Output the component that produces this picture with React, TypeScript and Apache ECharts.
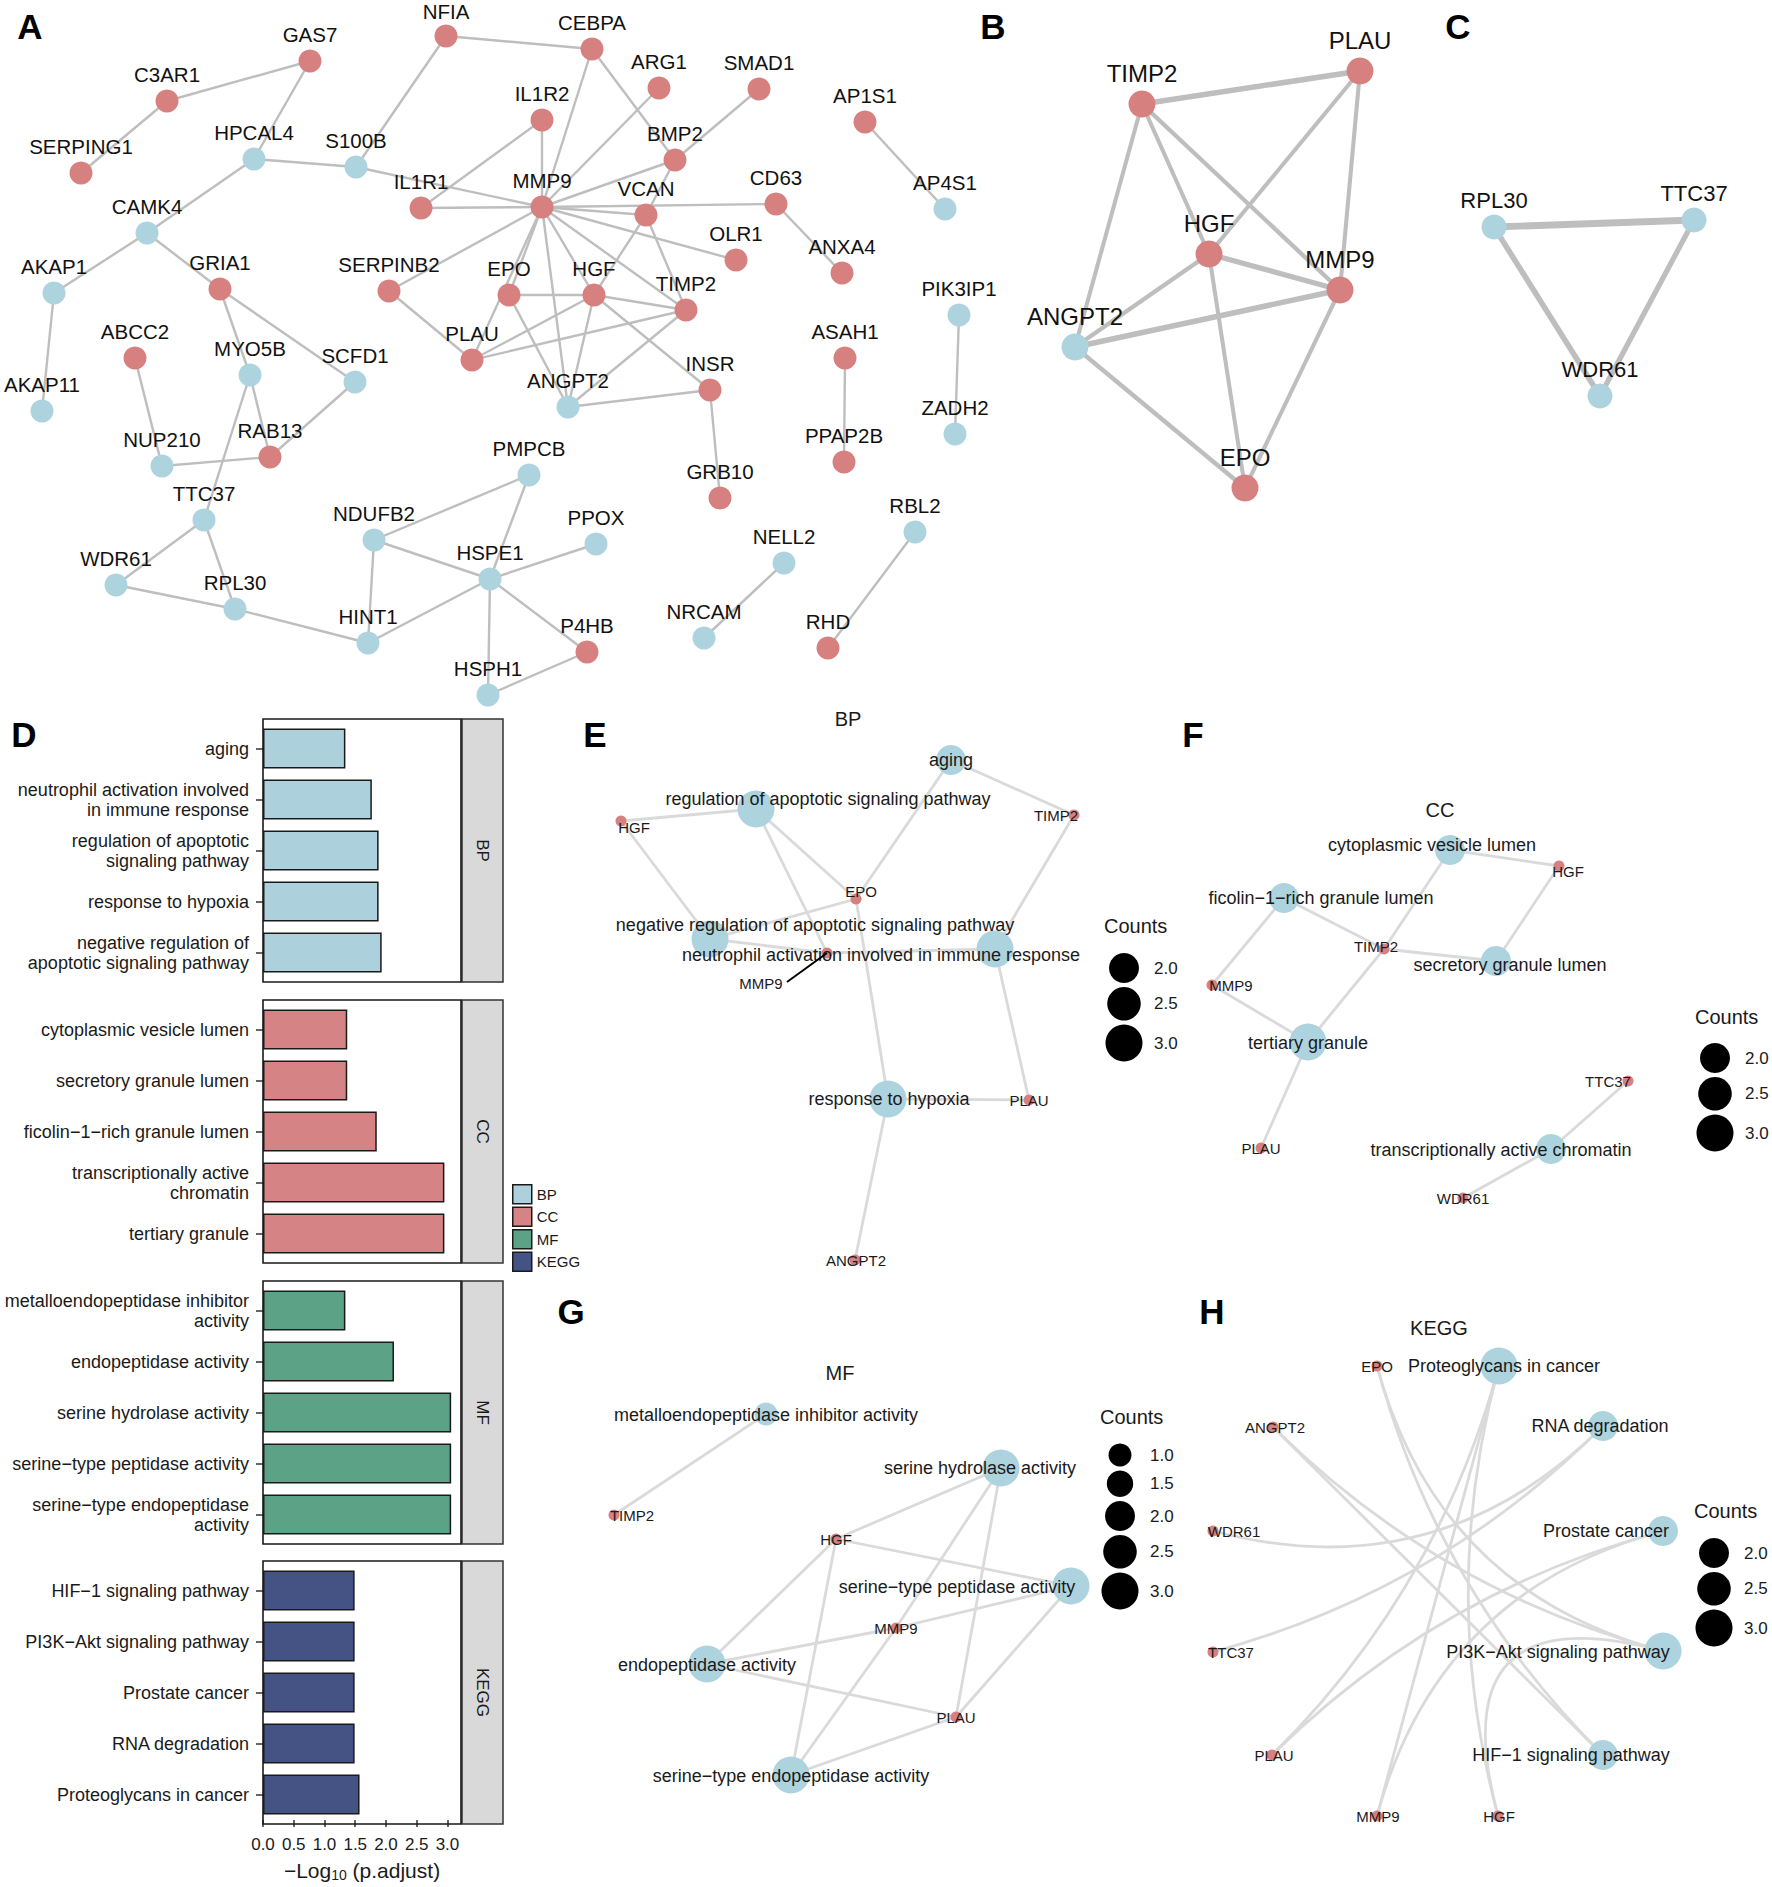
import React, { useEffect, useRef } from "react";
import * as echarts from "echarts";

const W = 1772;
const H = 1887;
const FONT = "'Liberation Sans', Arial, Helvetica, sans-serif";
const RED = "#D6807F";
const BLUE = "#ADD3DF";
const INK = "#1A1A1A";
const EDGE = "#BEBEBE";
const EDGE_LIGHT = "#DADADA";

// ---------------- Panel A : PPI network ----------------
const A_NODES: [string, number, number, "r" | "b"][] = [
  ["GAS7", 310, 61, "r"], ["NFIA", 446, 36, "r"], ["CEBPA", 592, 49, "r"],
  ["C3AR1", 167, 101, "r"], ["ARG1", 659, 88, "r"], ["SMAD1", 759, 89, "r"],
  ["AP1S1", 865, 122, "r"], ["IL1R2", 542, 120, "r"], ["HPCAL4", 254, 159, "b"],
  ["S100B", 356, 167, "b"], ["SERPING1", 81, 173, "r"], ["BMP2", 675, 160, "r"],
  ["IL1R1", 421, 208, "r"], ["MMP9", 542, 207, "r"], ["VCAN", 646, 215, "r"],
  ["CD63", 776, 204, "r"], ["AP4S1", 945, 209, "b"], ["CAMK4", 147, 233, "b"],
  ["OLR1", 736, 260, "r"], ["ANXA4", 842, 273, "r"], ["AKAP1", 54, 293, "b"],
  ["GRIA1", 220, 289, "r"], ["SERPINB2", 389, 291, "r"], ["EPO", 509, 295, "r"],
  ["HGF", 594, 295, "r"], ["TIMP2", 686, 310, "r"], ["PIK3IP1", 959, 315, "b"],
  ["ABCC2", 135, 358, "r"], ["ASAH1", 845, 358, "r"], ["MYO5B", 250, 375, "b"],
  ["SCFD1", 355, 382, "b"], ["PLAU", 472, 360, "r"], ["ANGPT2", 568, 407, "b"],
  ["INSR", 710, 390, "r"], ["AKAP11", 42, 411, "b"], ["ZADH2", 955, 434, "b"],
  ["NUP210", 162, 466, "b"], ["RAB13", 270, 457, "r"], ["PPAP2B", 844, 462, "r"],
  ["PMPCB", 529, 475, "b"], ["GRB10", 720, 498, "r"], ["TTC37", 204, 520, "b"],
  ["NDUFB2", 374, 540, "b"], ["PPOX", 596, 544, "b"], ["RBL2", 915, 532, "b"],
  ["NELL2", 784, 563, "b"], ["WDR61", 116, 585, "b"], ["HSPE1", 490, 579, "b"],
  ["RPL30", 235, 609, "b"], ["HINT1", 368, 643, "b"], ["NRCAM", 704, 638, "b"],
  ["P4HB", 587, 652, "r"], ["RHD", 828, 648, "r"], ["HSPH1", 488, 695, "b"],
];
const A_EDGES: [string, string][] = [
  ["C3AR1", "GAS7"], ["C3AR1", "SERPING1"], ["GAS7", "HPCAL4"], ["HPCAL4", "S100B"],
  ["HPCAL4", "CAMK4"], ["S100B", "NFIA"], ["S100B", "MMP9"], ["NFIA", "CEBPA"],
  ["IL1R1", "MMP9"], ["IL1R1", "IL1R2"], ["IL1R2", "MMP9"], ["CEBPA", "MMP9"],
  ["CEBPA", "BMP2"], ["ARG1", "MMP9"], ["SMAD1", "BMP2"], ["BMP2", "MMP9"],
  ["BMP2", "VCAN"], ["MMP9", "VCAN"], ["MMP9", "CD63"], ["MMP9", "OLR1"],
  ["MMP9", "TIMP2"], ["MMP9", "HGF"], ["MMP9", "ANGPT2"], ["MMP9", "EPO"],
  ["MMP9", "PLAU"], ["MMP9", "SERPINB2"], ["VCAN", "HGF"], ["VCAN", "TIMP2"],
  ["CD63", "ANXA4"], ["AP1S1", "AP4S1"], ["SERPINB2", "PLAU"], ["EPO", "HGF"],
  ["EPO", "ANGPT2"], ["HGF", "TIMP2"], ["HGF", "PLAU"], ["HGF", "ANGPT2"],
  ["HGF", "INSR"], ["TIMP2", "PLAU"], ["TIMP2", "ANGPT2"], ["ANGPT2", "INSR"],
  ["INSR", "GRB10"], ["PIK3IP1", "ZADH2"], ["ASAH1", "PPAP2B"], ["CAMK4", "AKAP1"],
  ["CAMK4", "GRIA1"], ["AKAP1", "AKAP11"], ["GRIA1", "MYO5B"], ["GRIA1", "SCFD1"],
  ["ABCC2", "NUP210"], ["MYO5B", "RAB13"], ["MYO5B", "TTC37"], ["SCFD1", "RAB13"],
  ["NUP210", "RAB13"], ["TTC37", "WDR61"], ["TTC37", "RPL30"], ["WDR61", "RPL30"],
  ["RPL30", "HINT1"], ["NDUFB2", "PMPCB"], ["NDUFB2", "HSPE1"], ["NDUFB2", "HINT1"],
  ["PMPCB", "HSPE1"], ["HSPE1", "PPOX"], ["HSPE1", "HINT1"], ["HSPE1", "P4HB"],
  ["HSPE1", "HSPH1"], ["P4HB", "HSPH1"], ["NELL2", "NRCAM"], ["RBL2", "RHD"],
];
const A_LABEL_DY: Record<string, number> = { NFIA: -25 };

// ---------------- Panel B / C : modules ----------------
const B_NODES: [string, number, number, "r" | "b"][] = [
  ["PLAU", 1360, 71, "r"], ["TIMP2", 1142, 104, "r"], ["HGF", 1209, 254, "r"],
  ["MMP9", 1340, 290, "r"], ["ANGPT2", 1075, 347, "b"], ["EPO", 1245, 488, "r"],
];
const B_EDGES: [string, string, number][] = [
  ["TIMP2", "PLAU", 0.95], ["TIMP2", "HGF", 0.7], ["TIMP2", "MMP9", 0.75], ["TIMP2", "ANGPT2", 0.7],
  ["PLAU", "HGF", 0.7], ["PLAU", "MMP9", 0.7], ["HGF", "MMP9", 0.9], ["HGF", "ANGPT2", 0.75],
  ["HGF", "EPO", 0.7], ["ANGPT2", "MMP9", 0.95], ["ANGPT2", "EPO", 0.75], ["MMP9", "EPO", 0.7],
];
const C_NODES: [string, number, number, "r" | "b"][] = [
  ["RPL30", 1494, 227, "b"], ["TTC37", 1694, 220, "b"], ["WDR61", 1600, 396, "b"],
];
const C_EDGES: [string, string, number][] = [
  ["RPL30", "TTC37", 0.99], ["RPL30", "WDR61", 0.8], ["TTC37", "WDR61", 0.75],
];

// ---------------- Panel D : enrichment bars ----------------
const D_GROUPS = ["BP", "CC", "MF", "KEGG"];
const D_COLORS = ["#ADD1DC", "#D58384", "#5BA287", "#455384"];
const BP_TERMS = [
  "aging",
  "neutrophil activation involved in immune response",
  "regulation of apoptotic signaling pathway",
  "response to hypoxia",
  "negative regulation of apoptotic signaling pathway",
];
const BP_VALUES = [1.34, 1.77, 1.88, 1.88, 1.93];
const CC_TERMS = [
  "cytoplasmic vesicle lumen",
  "secretory granule lumen",
  "ficolin\u22121\u2212rich granule lumen",
  "transcriptionally active chromatin",
  "tertiary granule",
];
const CC_VALUES = [1.37, 1.37, 1.85, 2.95, 2.95];
const MF_TERMS = [
  "metalloendopeptidase inhibitor activity",
  "endopeptidase activity",
  "serine hydrolase activity",
  "serine\u2212type peptidase activity",
  "serine\u2212type endopeptidase activity",
];
const MF_VALUES = [1.34, 2.13, 3.06, 3.06, 3.06];
const KEGG_TERMS = [
  "HIF\u22121 signaling pathway",
  "PI3K\u2212Akt signaling pathway",
  "Prostate cancer",
  "RNA degradation",
  "Proteoglycans in cancer",
];
const KEGG_VALUES = [1.49, 1.49, 1.49, 1.49, 1.57];
const X_TICKS = [0, 0.5, 1, 1.5, 2, 2.5, 3];
const X_MAX = 3.22;

// ---------------- Panels E-H : gene-concept networks ----------------
const E_TERMS: [string, number, number][] = [
  ["aging", 951, 760],
  ["regulation of apoptotic signaling pathway", 756, 809],
  ["negative regulation of apoptotic signaling pathway", 710, 939],
  ["neutrophil activation involved in immune response", 995, 949],
  ["response to hypoxia", 888, 1099],
];
const E_GENES: [string, number, number][] = [
  ["HGF", 621, 821], ["TIMP2", 1074, 815], ["EPO", 856, 899],
  ["MMP9", 827, 953], ["PLAU", 1029, 1100], ["ANGPT2", 855, 1260],
];
const E_LINKS: [string, string][] = [
  ["aging", "TIMP2"], ["aging", "EPO"],
  ["regulation of apoptotic signaling pathway", "HGF"],
  ["regulation of apoptotic signaling pathway", "EPO"],
  ["regulation of apoptotic signaling pathway", "MMP9"],
  ["negative regulation of apoptotic signaling pathway", "HGF"],
  ["negative regulation of apoptotic signaling pathway", "EPO"],
  ["negative regulation of apoptotic signaling pathway", "MMP9"],
  ["neutrophil activation involved in immune response", "TIMP2"],
  ["neutrophil activation involved in immune response", "MMP9"],
  ["neutrophil activation involved in immune response", "PLAU"],
  ["response to hypoxia", "EPO"], ["response to hypoxia", "PLAU"], ["response to hypoxia", "ANGPT2"],
];
const E_OFFSETS: Record<string, [number, number]> = {
  "regulation of apoptotic signaling pathway": [72, -10],
  "negative regulation of apoptotic signaling pathway": [105, -14],
  "neutrophil activation involved in immune response": [-114, 6],
  "response to hypoxia": [1, 0],
  HGF: [13, 6], TIMP2: [-18, 0], EPO: [5, -8], MMP9: [-66, 30], ANGPT2: [1, 0],
};

const F_TERMS: [string, number, number][] = [
  ["cytoplasmic vesicle lumen", 1450, 850],
  ["ficolin\u22121\u2212rich granule lumen", 1284, 898],
  ["secretory granule lumen", 1496, 961],
  ["tertiary granule", 1308, 1042],
  ["transcriptionally active chromatin", 1551, 1149],
];
const F_GENES: [string, number, number][] = [
  ["HGF", 1559, 866], ["TIMP2", 1384, 949], ["MMP9", 1212, 985],
  ["PLAU", 1261, 1148], ["TTC37", 1628, 1081], ["WDR61", 1463, 1198],
];
const F_LINKS: [string, string][] = [
  ["cytoplasmic vesicle lumen", "HGF"], ["cytoplasmic vesicle lumen", "TIMP2"],
  ["ficolin\u22121\u2212rich granule lumen", "TIMP2"], ["ficolin\u22121\u2212rich granule lumen", "MMP9"],
  ["secretory granule lumen", "TIMP2"], ["secretory granule lumen", "HGF"],
  ["tertiary granule", "MMP9"], ["tertiary granule", "TIMP2"], ["tertiary granule", "PLAU"],
  ["transcriptionally active chromatin", "TTC37"], ["transcriptionally active chromatin", "WDR61"],
];
const F_OFFSETS: Record<string, [number, number]> = {
  "cytoplasmic vesicle lumen": [-18, -5],
  "ficolin\u22121\u2212rich granule lumen": [37, 0],
  "secretory granule lumen": [14, 4],
  "tertiary granule": [0, 1],
  "transcriptionally active chromatin": [-50, 1],
  HGF: [9, 5], TIMP2: [-8, -3], MMP9: [19, 0], TTC37: [-20, 0],
};

const G_TERMS: [string, number, number][] = [
  ["metalloendopeptidase inhibitor activity", 766, 1414],
  ["serine hydrolase activity", 1001, 1468],
  ["serine\u2212type peptidase activity", 1071, 1586],
  ["endopeptidase activity", 707, 1664],
  ["serine\u2212type endopeptidase activity", 791, 1775],
];
const G_GENES: [string, number, number][] = [
  ["TIMP2", 614, 1515], ["HGF", 836, 1539], ["MMP9", 896, 1628], ["PLAU", 956, 1717],
];
const G_LINKS: [string, string][] = [
  ["metalloendopeptidase inhibitor activity", "TIMP2"],
  ["serine hydrolase activity", "HGF"], ["serine hydrolase activity", "MMP9"], ["serine hydrolase activity", "PLAU"],
  ["serine\u2212type peptidase activity", "HGF"], ["serine\u2212type peptidase activity", "MMP9"],
  ["serine\u2212type peptidase activity", "PLAU"],
  ["endopeptidase activity", "HGF"], ["endopeptidase activity", "MMP9"], ["endopeptidase activity", "PLAU"],
  ["serine\u2212type endopeptidase activity", "HGF"], ["serine\u2212type endopeptidase activity", "MMP9"],
  ["serine\u2212type endopeptidase activity", "PLAU"],
];
const G_OFFSETS: Record<string, [number, number]> = {
  "metalloendopeptidase inhibitor activity": [0, 1],
  "serine hydrolase activity": [-21, 0],
  "serine\u2212type peptidase activity": [-114, 1],
  "endopeptidase activity": [0, 1],
  "serine\u2212type endopeptidase activity": [0, 1],
  TIMP2: [18, 0],
};

const H_TERMS: [string, number, number][] = [
  ["Proteoglycans in cancer", 1499, 1366],
  ["RNA degradation", 1603, 1426],
  ["Prostate cancer", 1663, 1531],
  ["PI3K\u2212Akt signaling pathway", 1663, 1651],
  ["HIF\u22121 signaling pathway", 1603, 1755],
];
const H_GENES: [string, number, number][] = [
  ["EPO", 1377, 1366], ["ANGPT2", 1273, 1427], ["WDR61", 1213, 1531], ["TTC37", 1213, 1652],
  ["PLAU", 1272, 1755], ["MMP9", 1377, 1816], ["HGF", 1498, 1816],
];
const H_LINKS: [string, string][] = [
  ["Proteoglycans in cancer", "HGF"], ["Proteoglycans in cancer", "MMP9"], ["Proteoglycans in cancer", "PLAU"],
  ["RNA degradation", "WDR61"], ["RNA degradation", "TTC37"],
  ["Prostate cancer", "MMP9"], ["Prostate cancer", "PLAU"],
  ["PI3K\u2212Akt signaling pathway", "ANGPT2"], ["PI3K\u2212Akt signaling pathway", "EPO"],
  ["PI3K\u2212Akt signaling pathway", "HGF"],
  ["HIF\u22121 signaling pathway", "ANGPT2"], ["HIF\u22121 signaling pathway", "EPO"],
];
const H_OFFSETS: Record<string, [number, number]> = {
  "Proteoglycans in cancer": [5, 0],
  "RNA degradation": [-3, 0],
  "Prostate cancer": [-57, 0],
  "PI3K\u2212Akt signaling pathway": [-105, 1],
  "HIF\u22121 signaling pathway": [-32, 0],
  ANGPT2: [2, 0], WDR61: [21, 0], TTC37: [18, 0], PLAU: [2, 0], MMP9: [1, 0], HGF: [1, 0],
};

const COUNT_BREAKS_3 = [2.0, 2.5, 3.0];
const COUNT_BREAKS_5 = [1.0, 1.5, 2.0, 2.5, 3.0];

// ---------------- helpers ----------------
const countDiam = (c: number) => 23 + (c - 1) * 7;

function wrap(s: string, width = 30) {
  const words = s.split(" ");
  const lines: string[] = [];
  let cur = "";
  for (const w of words) {
    if (!cur) cur = w;
    else if ((cur + " " + w).length <= width) cur += " " + w;
    else { lines.push(cur); cur = w; }
  }
  if (cur) lines.push(cur);
  return lines.join("\n");
}

function buildOption() {
  const grid: any[] = [];
  const xAxis: any[] = [];
  const yAxis: any[] = [];
  const series: any[] = [];
  const graphic: any[] = [];

  const addNetGrid = (box: [number, number, number, number]) => {
    const gi = grid.length;
    grid.push({ left: box[0], top: box[1], width: box[2], height: box[3], show: false, containLabel: false, outerBoundsMode: "none" });
    xAxis.push({ type: "value", gridIndex: gi, min: box[0], max: box[0] + box[2], show: false });
    yAxis.push({ type: "value", gridIndex: gi, min: box[1], max: box[1] + box[3], inverse: true, show: false });
    return gi;
  };

  // PPI style networks (A, B, C)
  const ppi = (
    box: [number, number, number, number],
    nodes: [string, number, number, "r" | "b"][],
    edges: [string, string, number?][],
    diam: number, font: number, labelDy: number, edgeScale: number,
    dyOverride: Record<string, number> = {}
  ) => {
    const gi = addNetGrid(box);
    series.push({
      type: "graph", coordinateSystem: "cartesian2d", xAxisIndex: gi, yAxisIndex: gi,
      layout: "none", symbol: "circle", symbolSize: diam, roam: false, silent: true,
      data: nodes.map(([n, x, y, g]) => ({
        name: n, value: [x, y], itemStyle: { color: g === "r" ? RED : BLUE },
        label: { offset: [0, dyOverride[n] != null ? dyOverride[n] : labelDy] },
      })),
      links: edges.map(([s, t, w]) => ({ source: s, target: t, lineStyle: { width: w != null ? w * edgeScale : edgeScale } })),
      lineStyle: { color: EDGE, opacity: 1, curveness: 0 },
      label: { show: true, position: "inside", fontSize: font, fontFamily: FONT, color: "#111" },
      emphasis: { disabled: true },
    });
  };
  ppi([0, 0, 1000, 715], A_NODES, A_EDGES, 23, 20.5, -27, 2.4, A_LABEL_DY);
  ppi([1000, 0, 440, 520], B_NODES, B_EDGES, 27, 24, -31, 5.8);
  ppi([1440, 0, 332, 520], C_NODES, C_EDGES, 25, 22, -27, 7);

  // gene-concept networks (E-H)
  const cnet = (
    box: [number, number, number, number],
    terms: [string, number, number][],
    genes: [string, number, number][],
    links: [string, string][],
    offsets: Record<string, [number, number]>,
    curved: boolean
  ) => {
    const gi = addNetGrid(box);
    const counts: Record<string, number> = {};
    links.forEach(([t]) => { counts[t] = (counts[t] || 0) + 1; });
    const pos: Record<string, [number, number]> = {};
    [...terms, ...genes].forEach(([n, x, y]) => { pos[n] = [x, y]; });
    const all = [...terms, ...genes];
    const xs = all.map((d) => d[1]);
    const ys = all.map((d) => d[2]);
    const cx = (Math.min(...xs) + Math.max(...xs)) / 2;
    const cy = (Math.min(...ys) + Math.max(...ys)) / 2;
    const data = [
      ...terms.map(([n, x, y]) => ({
        name: n, value: [x, y], symbolSize: countDiam(counts[n]), itemStyle: { color: BLUE },
        label: { fontSize: 18, offset: offsets[n] || [0, 0] },
      })),
      ...genes.map(([n, x, y]) => ({
        name: n, value: [x, y], symbolSize: 11, itemStyle: { color: RED },
        label: { fontSize: 15, offset: offsets[n] || [0, 0] },
      })),
    ];
    const linkData = links.map(([s, t]) => {
      let c = 0;
      if (curved) {
        const p1 = pos[s], p2 = pos[t];
        const mx = (p1[0] + p2[0]) / 2, my = (p1[1] + p2[1]) / 2;
        const nx = p2[1] - p1[1], ny = p1[0] - p2[0];
        c = ((cx - mx) * nx + (cy - my) * ny) / (nx * nx + ny * ny);
      }
      return { source: s, target: t, lineStyle: { curveness: c } };
    });
    series.push({
      type: "graph", coordinateSystem: "cartesian2d", xAxisIndex: gi, yAxisIndex: gi,
      layout: "none", symbol: "circle", roam: false, silent: true,
      data, links: linkData,
      lineStyle: { color: EDGE_LIGHT, opacity: 1, width: 2.8 },
      label: { show: true, position: "inside", fontFamily: FONT, color: INK },
      emphasis: { disabled: true },
    });
    return { gi, pos };
  };

  const e = cnet([560, 705, 640, 580], E_TERMS, E_GENES, E_LINKS, E_OFFSETS, false);
  // repel leader line for MMP9 label in panel E
  {
    const p = e.pos["MMP9"];
    const o = E_OFFSETS["MMP9"];
    series.push({
      type: "lines", coordinateSystem: "cartesian2d", xAxisIndex: e.gi, yAxisIndex: e.gi, silent: true, z: 5,
      data: [{ coords: [[p[0] + o[0] + 26, p[1] + o[1] - 1], [p[0], p[1]]] }],
      lineStyle: { color: "#000", width: 2, opacity: 1 },
    });
  }
  cnet([1180, 705, 592, 560], F_TERMS, F_GENES, F_LINKS, F_OFFSETS, false);
  cnet([540, 1290, 640, 597], G_TERMS, G_GENES, G_LINKS, G_OFFSETS, false);
  cnet([1180, 1290, 592, 597], H_TERMS, H_GENES, H_LINKS, H_OFFSETS, true);

  // ---------- Panel D facets ----------
  const D_LEFT = 263, D_WIDTH = 198, D_H = 263, D_PAD = 4;
  const D_TOPS = [719, 1000, 1281, 1561];
  const termSets = [BP_TERMS, CC_TERMS, MF_TERMS, KEGG_TERMS];
  const valueSets = [BP_VALUES, CC_VALUES, MF_VALUES, KEGG_VALUES];
  D_GROUPS.forEach((g, i) => {
    const gi = grid.length;
    const last = i === D_GROUPS.length - 1;
    grid.push({
      left: D_LEFT, top: D_TOPS[i] + D_PAD, width: D_WIDTH, height: D_H - 2 * D_PAD, show: false,
      containLabel: false, outerBoundsMode: "none",
    });
    xAxis.push({
      type: "value", gridIndex: gi, min: 0, max: X_MAX,
      axisLine: { show: false }, splitLine: { show: false },
      axisTick: { show: last, length: 7, lineStyle: { color: "#333", width: 1.5 }, customValues: X_TICKS },
      axisLabel: {
        show: last, customValues: X_TICKS, fontSize: 17, color: INK, fontFamily: FONT, margin: 12 + D_PAD,
        formatter: (v: number) => (X_TICKS.some((t) => Math.abs(t - v) < 1e-9) ? Number(v).toFixed(1) : ""),
      },
      name: last ? "\u2212Log{s|10} (p.adjust)" : "",
      nameLocation: "middle", nameGap: 34 + D_PAD,
      nameTextStyle: {
        fontSize: 21, color: INK, fontFamily: FONT, lineHeight: 24,
        rich: { s: { fontSize: 14, lineHeight: 14, verticalAlign: "bottom", fontFamily: FONT, color: INK } },
      },
    });
    yAxis.push({
      type: "category", gridIndex: gi, inverse: true, data: termSets[i].map((t) => wrap(t)),
      axisLine: { show: false }, splitLine: { show: false },
      axisTick: { show: true, alignWithLabel: true, length: 7, lineStyle: { color: "#333", width: 1.5 } },
      axisLabel: { interval: 0, fontSize: 18, color: INK, fontFamily: FONT, margin: 14, lineHeight: 20, align: "right" },
    });
    series.push({
      type: "bar", name: g, xAxisIndex: gi, yAxisIndex: gi, data: valueSets[i], barWidth: 40, silent: true,
      itemStyle: { color: D_COLORS[i], borderColor: "#1A1A1A", borderWidth: 1.5 },
    });
    graphic.push({
      type: "rect", shape: { x: D_LEFT, y: D_TOPS[i], width: D_WIDTH, height: D_H }, z: 10,
      style: { fill: "none", stroke: "#1A1A1A", lineWidth: 1.6 }, silent: true,
    });
    graphic.push({
      type: "rect", shape: { x: 462, y: D_TOPS[i], width: 41, height: D_H },
      style: { fill: "#D9D9D9", stroke: "#333", lineWidth: 1.5 }, silent: true,
    });
    graphic.push({
      type: "text", x: 482.5, y: D_TOPS[i] + D_H / 2, rotation: -Math.PI / 2, silent: true,
      style: { text: g, fontSize: 17, fontFamily: FONT, fill: INK, align: "center", verticalAlign: "middle" },
    });
  });

  // ---------- panel letters ----------
  const letters: [string, number, number][] = [
    ["A", 30, 26], ["B", 993, 26], ["C", 1458, 26], ["D", 24, 734],
    ["E", 595, 734], ["F", 1193, 734], ["G", 571, 1311], ["H", 1212, 1311],
  ];
  letters.forEach(([t, x, y]) => graphic.push({
    type: "text", x, y, silent: true,
    style: { text: t, fontSize: 35, fontWeight: "bold", fontFamily: FONT, fill: "#000", align: "center", verticalAlign: "middle" },
  }));

  // ---------- panel titles ----------
  const titles: [string, number, number][] = [["BP", 848, 719], ["CC", 1440, 810], ["MF", 840, 1373], ["KEGG", 1439, 1328]];
  titles.forEach(([t, x, y]) => graphic.push({
    type: "text", x, y, silent: true,
    style: { text: t, fontSize: 20, fontFamily: FONT, fill: INK, align: "center", verticalAlign: "middle" },
  }));

  // ---------- Counts legends ----------
  const countsLegend = (x: number, titleY: number, firstY: number, breaks: number[]) => {
    graphic.push({
      type: "text", x, y: titleY, silent: true,
      style: { text: "Counts", fontSize: 20, fontFamily: FONT, fill: INK, align: "left", verticalAlign: "middle" },
    });
    let y = firstY;
    breaks.forEach((b, i) => {
      if (i > 0) y += countDiam(breaks[i - 1]) / 2 + countDiam(b) / 2 + 4;
      graphic.push({ type: "circle", shape: { cx: x + 20, cy: y, r: countDiam(b) / 2 }, style: { fill: "#000" }, silent: true });
      graphic.push({
        type: "text", x: x + 50, y, silent: true,
        style: { text: b.toFixed(1), fontSize: 17, fontFamily: FONT, fill: INK, align: "left", verticalAlign: "middle" },
      });
    });
  };
  countsLegend(1104, 926, 968, COUNT_BREAKS_3);
  countsLegend(1695, 1017, 1058, COUNT_BREAKS_3);
  countsLegend(1100, 1417, 1455, COUNT_BREAKS_5);
  countsLegend(1694, 1511, 1553, COUNT_BREAKS_3);

  return {
    animation: false,
    backgroundColor: "#fff",
    textStyle: { fontFamily: FONT, color: INK },
    grid, xAxis, yAxis, series, graphic,
    legend: {
      data: D_GROUPS, left: 507, top: 1179, orient: "vertical", icon: "rect",
      itemWidth: 19, itemHeight: 19, itemGap: 2, selectedMode: false,
      itemStyle: { borderColor: "#1A1A1A", borderWidth: 1.5 },
      textStyle: { fontSize: 15, color: INK, fontFamily: FONT },
    },
  };
}

export default function App() {
  const ref = useRef<HTMLDivElement>(null);
  useEffect(() => {
    document.body.style.margin = "0";
    const chart = echarts.init(ref.current!, null, { renderer: "svg", width: W, height: H });
    chart.setOption(buildOption() as any);
    return () => chart.dispose();
  }, []);
  return <div ref={ref} style={{ width: W, height: H, background: "#fff" }} />;
}
